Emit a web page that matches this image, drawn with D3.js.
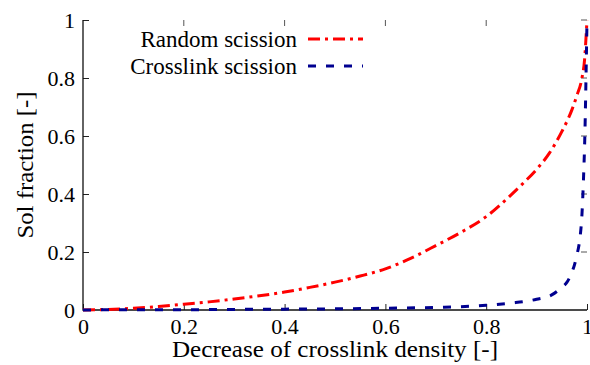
<!DOCTYPE html>
<html>
<body style="margin:0;background:white">

<style>
    body { margin: 0; background: white; }
    #view { display: block; width: 590px; height: 365px; }
    .serif { font-family: 'Liberation Serif', 'DejaVu Serif', serif; fill: black; }
</style>

<svg id="view" width="590" height="365"></svg>

<script src="https://cdnjs.cloudflare.com/ajax/libs/d3/7.8.5/d3.min.js"></script>

<script>
    // values
    const xTicks = [0, 0.2, 0.4, 0.6, 0.8, 1];
    const yTicks = [0, 0.2, 0.4, 0.6, 0.8, 1];

    const xRandom = [0, 0.05, 0.1, 0.15, 0.2, 0.25, 0.3, 0.35, 0.4, 0.45, 0.5, 0.55, 0.6, 0.65, 0.7, 0.75, 0.8, 0.85, 0.875, 0.9, 0.925, 0.95, 0.97, 0.98, 0.99, 0.995, 1];
    const yRandom = [0, 0.002, 0.006, 0.012, 0.02, 0.028, 0.038, 0.049, 0.062, 0.078, 0.096, 0.117, 0.142, 0.178, 0.222, 0.268, 0.322, 0.398, 0.44, 0.485, 0.54, 0.615, 0.69, 0.74, 0.8, 0.86, 1];

    const xCross = [0, 0.1, 0.2, 0.3, 0.4, 0.5, 0.6, 0.7, 0.8, 0.85, 0.9, 0.93, 0.95, 0.96, 0.97, 0.975, 0.98, 0.985, 0.99, 0.993, 0.996, 0.998, 1];
    const yCross = [0, 0.001, 0.001, 0.002, 0.003, 0.004, 0.006, 0.009, 0.016, 0.024, 0.037, 0.052, 0.078, 0.095, 0.13, 0.155, 0.19, 0.235, 0.33, 0.45, 0.62, 0.8, 1];

    const seriesNames = ['Random scission', 'Crosslink scission'];
    const seriesColors = ['#ff0000', '#000090'];
    const seriesDash = ['12,5,3,5', '8,10'];

    const mLeft = 83, mRight = 587, mTop = 20, mBottom = 310;
    const tick = 6;

    const svg = d3.select('#view');
    const x = d3.scaleLinear().domain([0, 1]).range([mLeft, mRight]);
    const y = d3.scaleLinear().domain([0, 1]).range([mBottom, mTop]);

    // left and bottom axes, ticks pointing inward
    const xAxis = d3.axisBottom(x).tickValues(xTicks).tickFormat(d3.format('')).tickSize(-tick).tickPadding(8);
    const yAxis = d3.axisLeft(y).tickValues(yTicks).tickFormat(d3.format('')).tickSize(-tick).tickPadding(8);

    const gx = svg.append('g').attr('transform', `translate(0,${mBottom})`).call(xAxis);
    const gy = svg.append('g').attr('transform', `translate(${mLeft},0)`).call(yAxis);
    [gx, gy].forEach(g => {
        g.attr('font-family', null).attr('font-size', null);
        g.select('.domain').remove();
        g.selectAll('.tick line').attr('stroke', '#222');
        g.selectAll('.tick text')
            .attr('class', 'serif')
            .style('font-family', "'Liberation Serif', 'DejaVu Serif', serif")
            .attr('font-size', 22)
            .attr('fill', 'black');
    });
    gx.selectAll('.tick text').attr('dy', '0.71em');
    gy.selectAll('.tick text').attr('dy', '0.33em');

    // border: only left and bottom lines
    svg.append('path')
        .attr('d', `M${mLeft},${mTop}L${mLeft},${mBottom}L${mRight},${mBottom}`)
        .attr('fill', 'none').attr('stroke', '#111').attr('stroke-width', 1.3);

    // mirrored ticks at the top and right
    svg.append('g').selectAll('line').data(xTicks.slice(1, -1)).join('line')
        .attr('x1', d => x(d)).attr('x2', d => x(d))
        .attr('y1', mTop).attr('y2', mTop + tick)
        .attr('stroke', '#555');
    svg.append('g').selectAll('line').data(yTicks.slice(1)).join('line')
        .attr('x1', mRight).attr('x2', mRight - tick)
        .attr('y1', d => y(d)).attr('y2', d => y(d))
        .attr('stroke', '#555');

    // curves
    const line = d3.line().x(d => x(d[0])).y(d => y(d[1])).curve(d3.curveMonotoneX);
    const series = [d3.zip(xRandom, yRandom), d3.zip(xCross, yCross)];

    svg.append('g').selectAll('path').data(series).join('path')
        .attr('d', line)
        .attr('fill', 'none')
        .attr('stroke', (d, i) => seriesColors[i])
        .attr('stroke-width', 3)
        .attr('stroke-dasharray', (d, i) => seriesDash[i]);

    // legend
    const legend = svg.append('g').selectAll('g').data(seriesNames).join('g')
        .attr('transform', (d, i) => `translate(0,${39 + i * 27})`);
    legend.append('text')
        .attr('class', 'serif')
        .attr('x', 297).attr('y', 8)
        .attr('text-anchor', 'end')
        .attr('font-size', 23)
        .text(d => d);
    legend.append('line')
        .attr('x1', 308).attr('x2', 363)
        .attr('y1', 0).attr('y2', 0)
        .attr('stroke', (d, i) => seriesColors[i])
        .attr('stroke-width', 3)
        .attr('stroke-dasharray', (d, i) => seriesDash[i]);

    // axis titles (slightly wide, as in the picture)
    svg.append('text')
        .attr('class', 'serif')
        .attr('x', (mLeft + mRight) / 2).attr('y', 357)
        .attr('text-anchor', 'middle')
        .attr('font-size', 23)
        .attr('textLength', 326)
        .attr('lengthAdjust', 'spacingAndGlyphs')
        .text('Decrease of crosslink density [-]');
    svg.append('text')
        .attr('class', 'serif')
        .attr('transform', `translate(33,${(mTop + mBottom) / 2}) rotate(-90)`)
        .attr('text-anchor', 'middle')
        .attr('font-size', 23)
        .attr('textLength', 147)
        .attr('lengthAdjust', 'spacingAndGlyphs')
        .text('Sol fraction [-]');
</script>

</body>
</html>
